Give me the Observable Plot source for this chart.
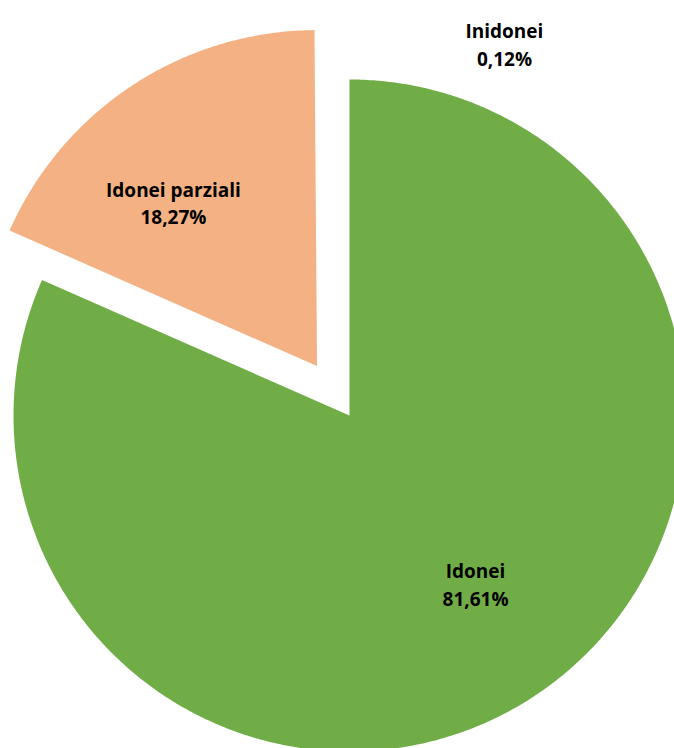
<!DOCTYPE html>
<html>
<head>
<meta charset="utf-8">
<script src="https://cdn.jsdelivr.net/npm/d3@7"></script>
<script src="https://cdn.jsdelivr.net/npm/@observablehq/plot@0.6"></script>
<style>
  html, body { margin: 0; padding: 0; background: #ffffff; }
  #chart { width: 674px; height: 748px; }
</style>
</head>
<body>
<div id="chart"></div>
<script>
// ---- data ----
const categories = ["Idonei", "Idonei parziali", "Inidonei"];
const values = [81.61, 18.27, 0.12];
const valueLabels = ["81,61%", "18,27%", "0,12%"];

// ---- styling / layout config ----
const colors = ["#70AD47", "#F4B183", "none"];
const explode = [0, 0.176, 0];             // radial offset, in radius units
// label placement: [distance from slice vertex (radius units), angle in degrees clockwise from 12 o'clock]
const labelPlacement = [[0.625, 143.1], [0.65, 318.9], [1.2, 22.6]];

const W = 674, H = 748, R = 336, CX = 349, CY = 415;

const pie = d3.pie().sort(null).value(d => d.value).startAngle(0).endAngle(2 * Math.PI);
const slices = pie(categories.map((name, i) => ({name, value: values[i], label: valueLabels[i], i})));

const polyPoints = [];
const labels = [];
for (const s of slices) {
  const i = s.data.i;
  const mid = (s.startAngle + s.endAngle) / 2;
  const ox = explode[i] * Math.sin(mid), oy = explode[i] * Math.cos(mid);
  polyPoints.push({name: s.data.name, x: ox, y: oy});
  const steps = Math.max(2, Math.ceil((s.endAngle - s.startAngle) / (Math.PI / 360)));
  for (let k = 0; k <= steps; k++) {
    const a = s.startAngle + (s.endAngle - s.startAngle) * k / steps;
    polyPoints.push({name: s.data.name, x: ox + Math.sin(a), y: oy + Math.cos(a)});
  }
  polyPoints.push({name: s.data.name, x: ox, y: oy});
  const [lr, la] = labelPlacement[i];
  const rad = la * Math.PI / 180;
  labels.push({
    text: s.data.name + "\n" + s.data.label,
    x: ox + lr * Math.sin(rad),
    y: oy + lr * Math.cos(rad)
  });
}

const chart = Plot.plot({
  width: W,
  height: H,
  margin: 0,
  style: {background: "#ffffff", fontFamily: "'Open Sans', Lato, sans-serif"},
  x: {domain: [-CX / R, (W - CX) / R], axis: null},
  y: {domain: [-(H - CY) / R, CY / R], axis: null},
  color: {domain: categories, range: colors},
  marks: [
    Plot.line(polyPoints, {x: "x", y: "y", z: "name", fill: "name", stroke: "none", curve: "linear"}),
    Plot.text(labels, {
      x: "x", y: "y", text: "text",
      fontSize: 19, fontWeight: "bold", fill: "#000000",
      lineHeight: 1.45, textAnchor: "middle"
    })
  ]
});
document.getElementById("chart").appendChild(chart);
</script>
</body>
</html>
